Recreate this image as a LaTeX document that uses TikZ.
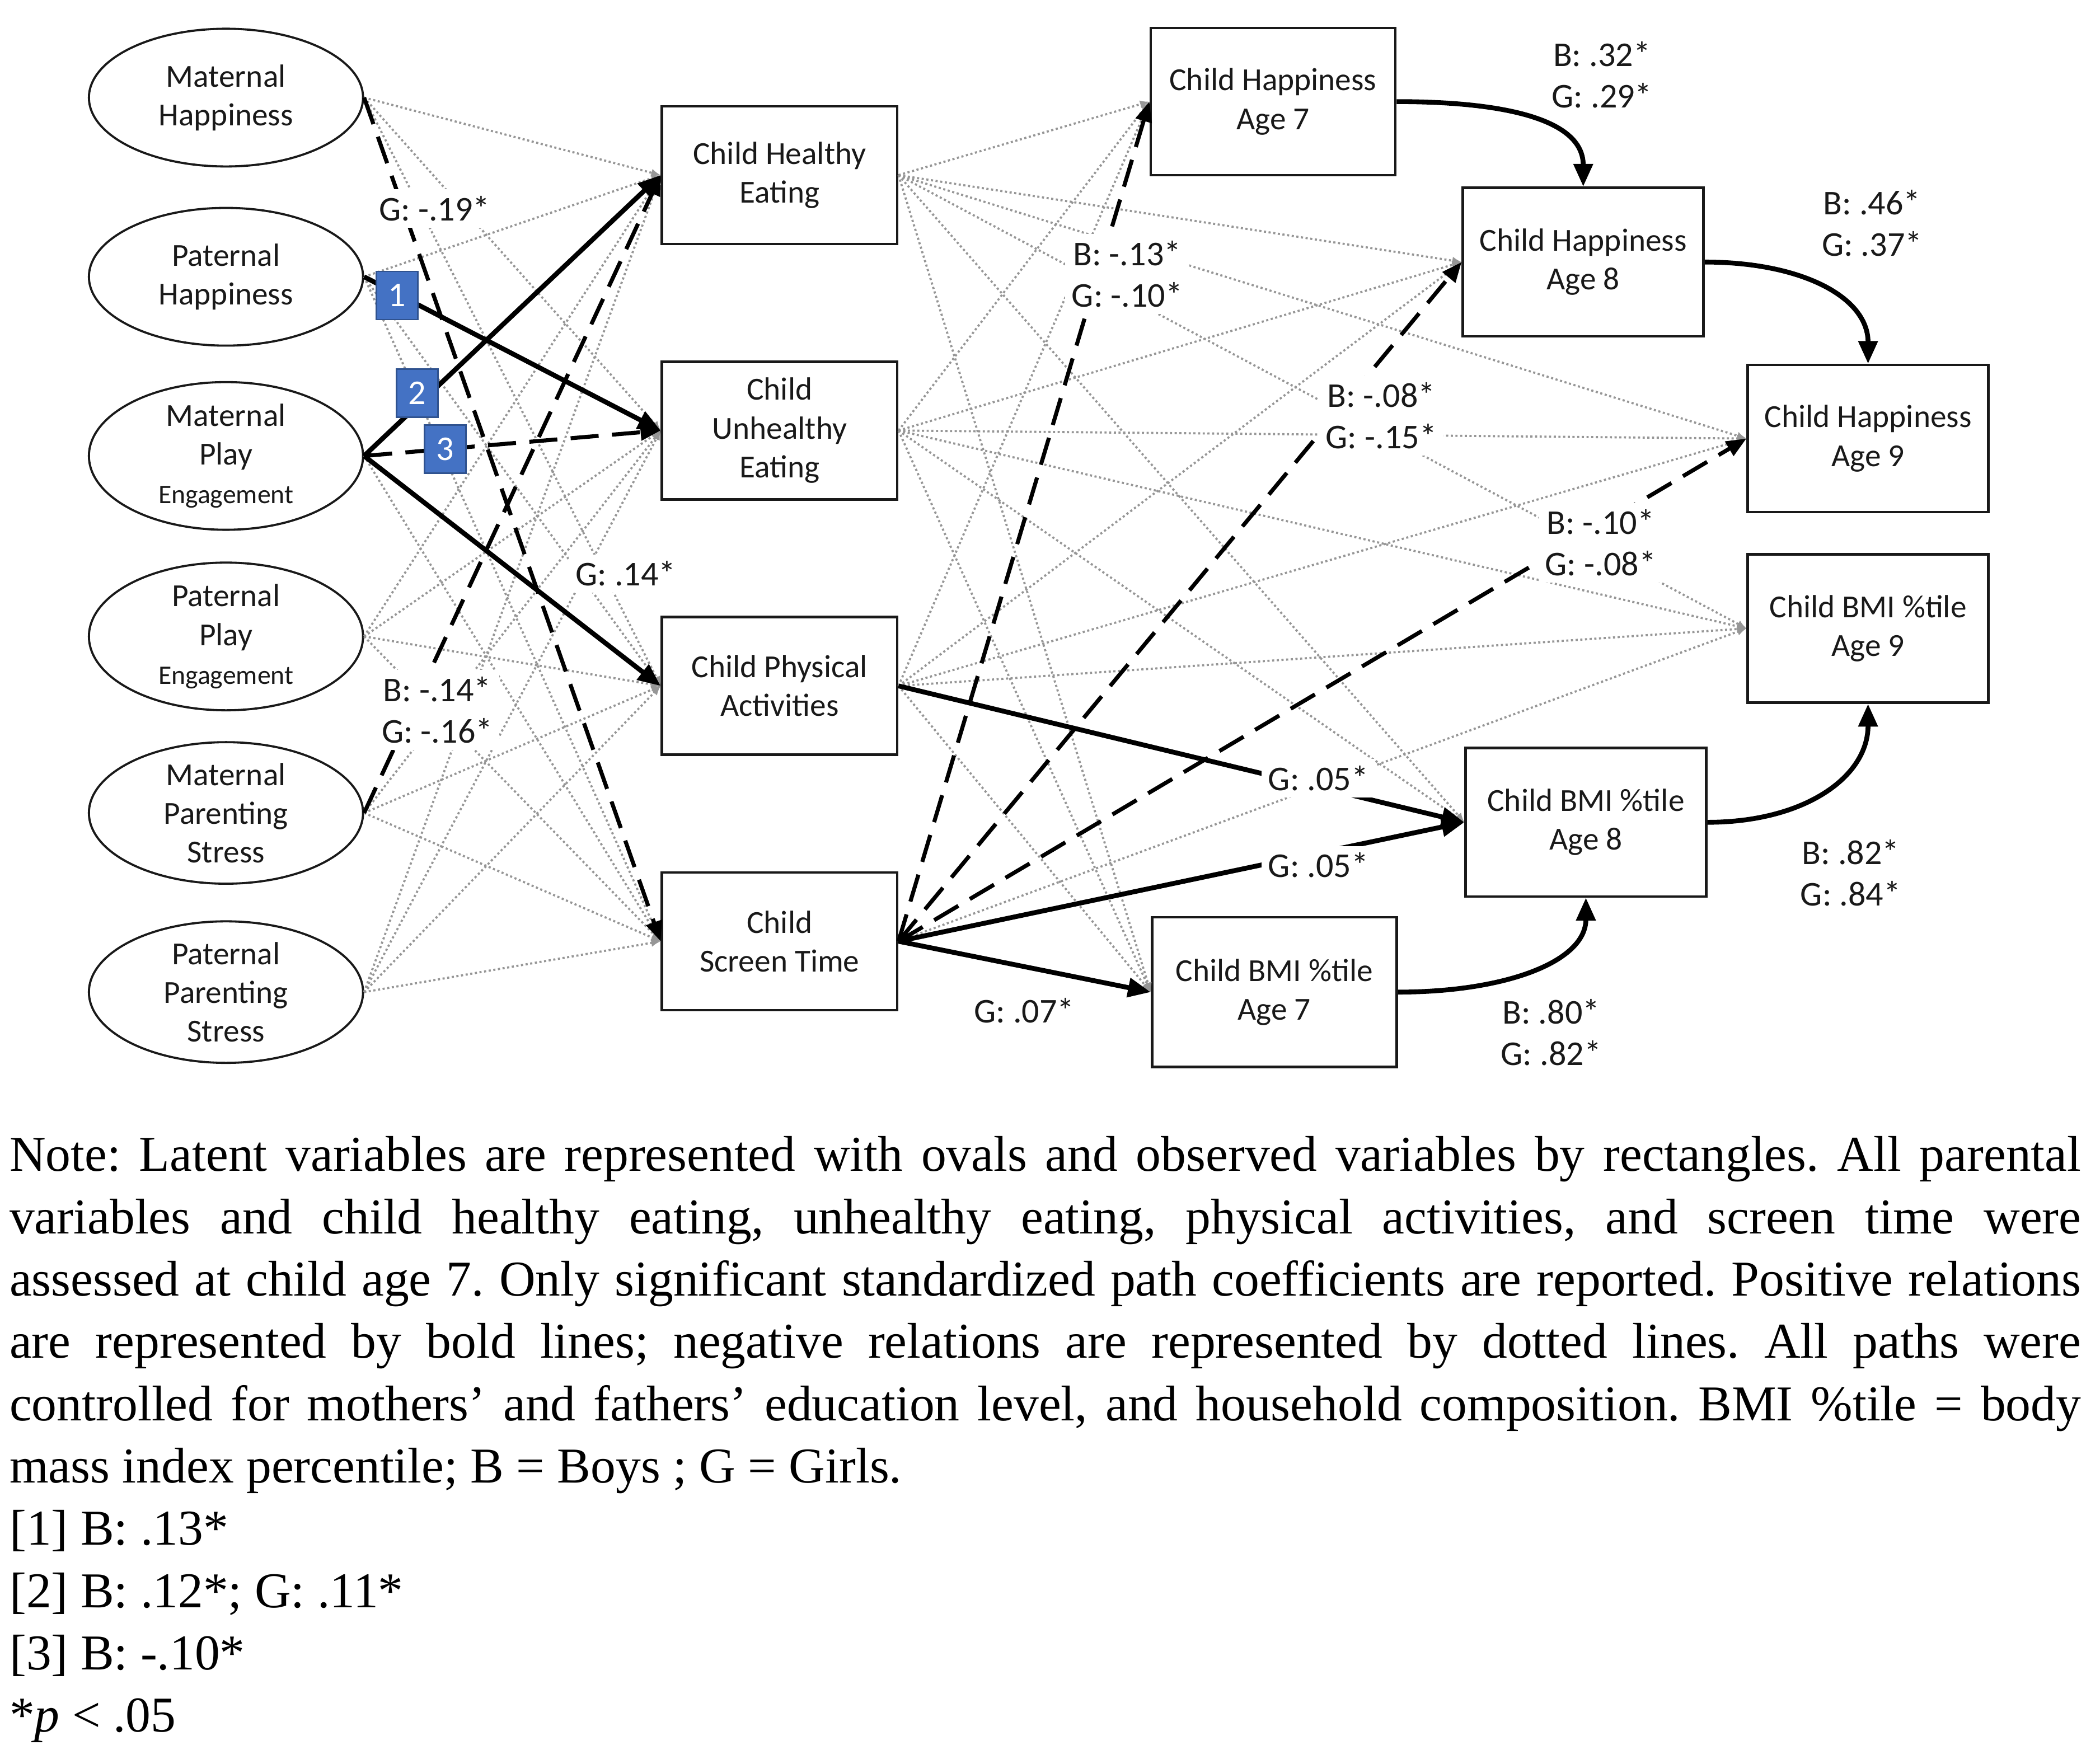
\documentclass[tikz,border=0pt]{standalone}
\usepackage{fontspec}
\setmainfont{Liberation Serif}
\newfontfamily\dfont{Carlito}
\newfontfamily\notefont{Liberation Serif}
\usetikzlibrary{shapes.geometric,arrows.meta}
\definecolor{dotgray}{RGB}{150,150,150}
\definecolor{badgefill}{RGB}{68,114,196}
\definecolor{badgeline}{RGB}{47,82,143}
\definecolor{ink}{RGB}{25,25,25}
\begin{document}
\frenchspacing
\begin{tikzpicture}[x=1pt,y=-1pt,
  every node/.style={font=\dfont\fontsize{24}{29}\selectfont, text=ink},
  latent/.style={ellipse, draw=ink, line width=1.6pt, minimum width=205pt, minimum height=103pt, inner sep=0pt, align=center},
  obs/.style={rectangle, draw=ink, line width=1.9pt, inner sep=0pt, align=center},
  nonsig/.style={draw=dotgray, line width=1.6pt, dash pattern=on 1.6pt off 1.9pt, -{Latex[length=7pt,width=6pt,fill=dotgray]}},
  sigpos/.style={draw=black, line width=3.6pt, -{Triangle[length=17pt,width=14pt]}},
  signeg/.style={draw=black, line width=3pt, dash pattern=on 21pt off 10pt, -{Triangle[length=15pt,width=12pt]}},
  coef/.style={fill=white, inner sep=5pt, font=\dfont\fontsize{26}{31}\selectfont, align=center},
  badge/.style={fill=badgefill, draw=badgeline, line width=1.2pt, minimum width=31pt, minimum height=36pt, inner sep=0pt, text=white, font=\dfont\fontsize{26}{30}\selectfont},
  notestyle/.style={anchor=base west, inner sep=0pt, font=\notefont\fontsize{37.5}{44}\selectfont, text=black}
]
\fill[white] (0,0) rectangle (1560,1319);
\useasboundingbox (0,0) rectangle (1560,1319);

% latent variables
\node[latent] (mh)  at (169,73)  {Maternal\\Happiness};
\node[latent] (ph)  at (169,207) {Paternal\\Happiness};
\node[latent] (mpe) at (169,341) {Maternal\\Play\\{\fontsize{20}{24}\selectfont Engagement}};
\node[latent] (ppe) at (169,476) {Paternal\\Play\\{\fontsize{20}{24}\selectfont Engagement}};
\node[latent] (mps) at (169,608) {Maternal\\Parenting\\Stress};
\node[latent] (pps) at (169,742) {Paternal\\Parenting\\Stress};

% child behaviours
\node[obs, minimum width=176pt, minimum height=103pt] (he) at (583,131) {Child Healthy\\Eating};
\node[obs, minimum width=176pt, minimum height=103pt] (ue) at (583,322) {Child\\Unhealthy\\Eating};
\node[obs, minimum width=176pt, minimum height=103pt] (pa) at (583,513) {Child Physical\\Activities};
\node[obs, minimum width=176pt, minimum height=103pt] (st) at (583,704) {Child\\Screen Time};

% outcomes
\node[obs, minimum width=183pt, minimum height=110pt] (ch7)  at (952,76)  {Child Happiness\\Age 7};
\node[obs, minimum width=183pt, minimum height=112pt] (bmi7) at (953,742) {Child BMI \%tile\\Age 7};
\node[obs, minimum width=180pt, minimum height=111pt] (ch8)  at (1184,196) {Child Happiness\\Age 8};
\node[obs, minimum width=180pt, minimum height=111pt] (bmi8) at (1186,615) {Child BMI \%tile\\Age 8};
\node[obs, minimum width=180pt, minimum height=110pt] (ch9)  at (1397,328) {Child Happiness\\Age 9};
\node[obs, minimum width=180pt, minimum height=111pt] (bmi9) at (1397,470) {Child BMI \%tile\\Age 9};

% non-significant paths
\foreach \s/\t in {mh/he, mh/ue, mh/pa, ph/he, ph/pa, ph/st, mpe/st,
  ppe/he, ppe/ue, ppe/pa, ppe/st, mps/ue, mps/pa, mps/st,
  pps/he, pps/ue, pps/pa, pps/st,
  he/ch7, he/ch8, he/ch9, he/bmi7, he/bmi8, he/bmi9,
  ue/ch7, ue/ch8, ue/ch9, ue/bmi7, ue/bmi8, ue/bmi9,
  pa/ch7, pa/ch8, pa/ch9, pa/bmi7, pa/bmi9, st/bmi9}
  \draw[nonsig] (\s.east) -- (\t.west);

% significant paths
\draw[signeg] (mh.east) -- (st.west);
\draw[sigpos] (ph.east) -- (ue.west);
\draw[sigpos] (mpe.east) -- (he.west);
\draw[signeg] (mpe.east) -- (ue.west);
\draw[sigpos] (mpe.east) -- (pa.west);
\draw[signeg] (mps.east) -- (he.west);
\draw[signeg] (st.east) -- (ch7.west);
\draw[signeg] (st.east) -- (ch8.west);
\draw[signeg] (st.east) -- (ch9.west);
\draw[sigpos] (pa.east) -- (bmi8.west);
\draw[sigpos] (st.east) -- (bmi8.west);
\draw[sigpos] (st.east) -- (bmi7.west);

% stability paths
\draw[sigpos] (ch7.east) .. controls +(75,0) and +(0,-52) .. (ch8.north);
\draw[sigpos] (ch8.east) .. controls +(72,0) and +(0,-50) .. (ch9.north);
\draw[sigpos] (bmi7.east) .. controls +(80,0) and +(0,48) .. (bmi8.south);
\draw[sigpos] (bmi8.east) .. controls +(72,0) and +(0,55) .. (bmi9.south);

% coefficients
\node[coef] (c1)  at (325,156)  {G: -.19*};
\node[coef] (c2)  at (327,531)  {B: -.14*\\G: -.16*};
\node[coef] (c3)  at (468,429)  {G: .14*};
\node[coef] (c4)  at (843,205)  {B: -.13*\\G: -.10*};
\node[coef] (c5)  at (1033,311) {B: -.08*\\G: -.15*};
\node[coef] (c6)  at (1197,406) {B: -.10*\\G: -.08*};
\node[coef] (c7)  at (986,582)  {G: .05*};
\node[coef] (c8)  at (986,647)  {G: .05*};
\node[coef] (c9)  at (766,756)  {G: .07*};
\node[coef] (c10) at (1198,56)  {B: .32*\\G: .29*};
\node[coef] (c11) at (1400,167) {B: .46*\\G: .37*};
\node[coef] (c12) at (1160,772) {B: .80*\\G: .82*};
\node[coef] (c13) at (1384,653) {B: .82*\\G: .84*};

% badges
\node[badge] (b1) at (297,221) {1};
\node[badge] (b2) at (312,294) {2};
\node[badge] (b3) at (333,336) {3};

% note
\node[notestyle] (n1) at (7,876) {\makebox[1549pt][s]{Note: Latent variables are represented with ovals and observed variables by rectangles. All parental}};
\node[notestyle] (n2) at (7,922.6) {\makebox[1549pt][s]{variables and child healthy eating, unhealthy eating, physical activities, and screen time were}};
\node[notestyle] (n3) at (7,969.2) {\makebox[1549pt][s]{assessed at child age 7. Only significant standardized path coefficients are reported. Positive relations}};
\node[notestyle] (n4) at (7,1015.8) {\makebox[1549pt][s]{are represented by bold lines; negative relations are represented by dotted lines. All paths were}};
\node[notestyle] (n5) at (7,1062.4) {\makebox[1549pt][s]{controlled for mothers’ and fathers’ education level, and household composition. BMI \%tile = body}};
\node[notestyle] (n6) at (7,1109) {mass index percentile; B = Boys ; G = Girls.};
\node[notestyle] (n7) at (7,1155.6) {[1] B: .13*};
\node[notestyle] (n8) at (7,1202.2) {[2] B: .12*; G: .11*};
\node[notestyle] (n9) at (7,1248.8) {[3] B: -.10*};
\node[notestyle] (n10) at (7,1295.4) {*\textit{p} < .05};
\end{tikzpicture}
\end{document}
